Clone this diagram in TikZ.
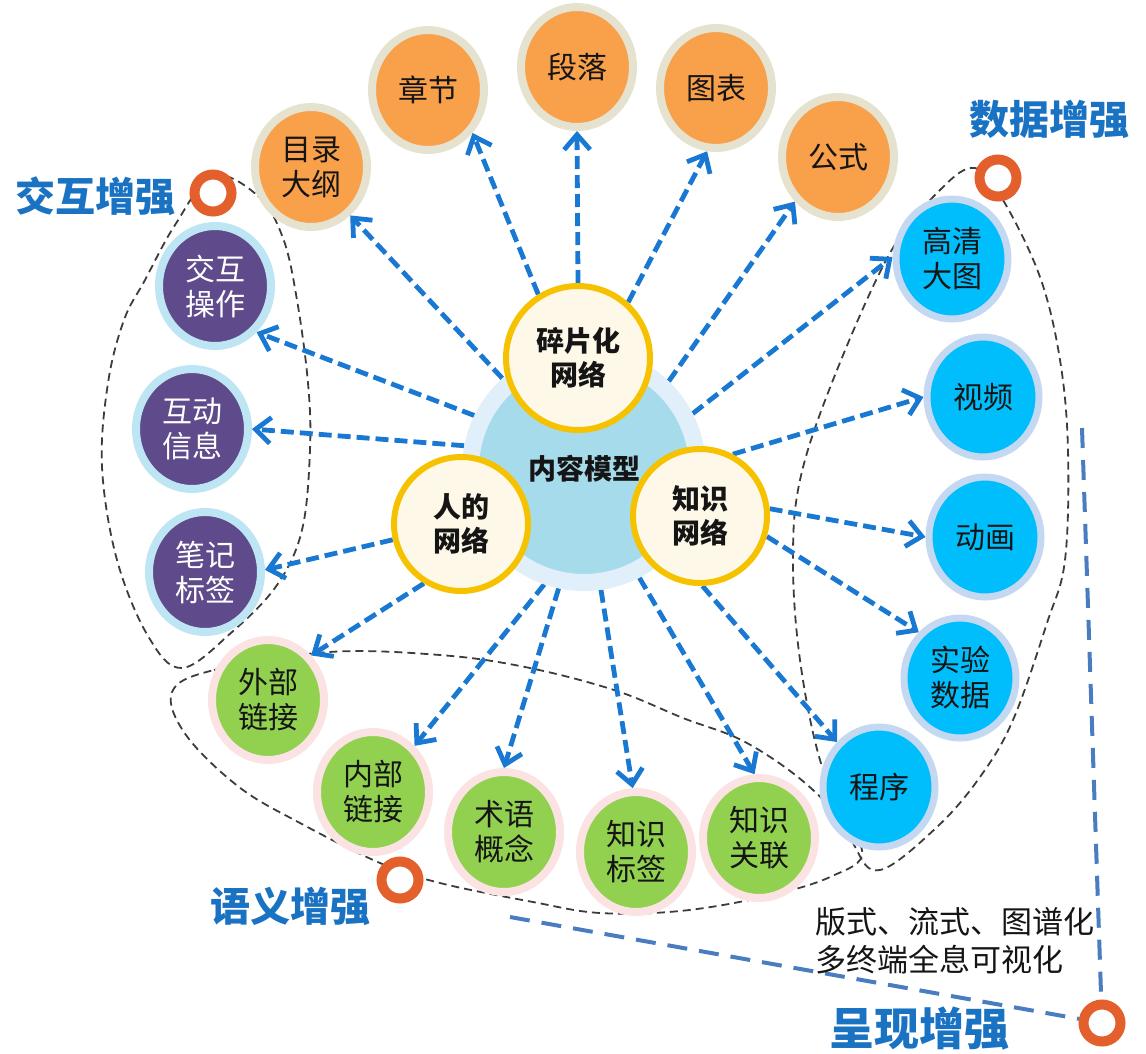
\documentclass[tikz,border=0pt]{standalone}
\usepackage{fontspec}
\setmainfont{Noto Sans CJK SC}
\usetikzlibrary{shapes.geometric,arrows.meta}
\definecolor{orangefill}{HTML}{F9A04B}
\definecolor{orangering}{HTML}{E6E2D0}
\definecolor{purplefill}{HTML}{5F4B8B}
\definecolor{purplering}{HTML}{BDE5F3}
\definecolor{bluefill}{HTML}{00BEFC}
\definecolor{bluering}{HTML}{C4D9F1}
\definecolor{greenfill}{HTML}{92D14F}
\definecolor{greenring}{HTML}{FBE3E4}
\definecolor{cream}{HTML}{FEF8E8}
\definecolor{yellowring}{HTML}{F6C200}
\definecolor{coreblue}{HTML}{A5DBEB}
\definecolor{halo}{HTML}{E0EFFA}
\definecolor{arrowblue}{HTML}{1878D2}
\definecolor{lensgray}{HTML}{3C3C3C}
\definecolor{presblue}{HTML}{4A7DC0}
\definecolor{markerorange}{HTML}{E35F2C}
\definecolor{lblblue}{HTML}{1A72C2}
\definecolor{txtdark}{HTML}{151515}
\pgfdeclarelayer{bg}
\pgfsetlayers{bg,main}
\begin{document}
\begin{tikzpicture}[x=1pt,y=-1pt,
  sat/.style={ellipse, minimum width=112pt, minimum height=120pt, inner sep=0pt,
    line width=8pt, align=center, font=\fontsize{30}{35}\selectfont, text=txtdark},
  orangenode/.style={sat, fill=orangefill, draw=orangering},
  purplenode/.style={sat, fill=purplefill, draw=purplering, text=white},
  bluenode/.style={sat, fill=bluefill, draw=bluering, line width=7pt},
  greennode/.style={sat, fill=greenfill, draw=greenring},
  yellownode/.style={circle, inner sep=0pt, fill=cream, draw=yellowring, line width=6pt,
    align=center, text=txtdark, font=\fontsize{28}{34}\selectfont\bfseries},
  arr/.style={draw=arrowblue, line width=4.8pt, dash pattern=on 13pt off 6pt,
    -{Straight Barb[length=15pt,width=26pt]}},
  lens/.style={draw=lensgray, line width=1.8pt, dash pattern=on 8pt off 5pt},
  pres/.style={draw=presblue, line width=4pt, dash pattern=on 20pt off 12pt},
  marker/.style={circle, draw=markerorange, fill=white, line width=10pt,
    minimum size=37pt, inner sep=0pt},
  lbl/.style={text=lblblue, font=\fontsize{40}{44}\selectfont\bfseries, inner sep=0pt},
]
\useasboundingbox (0,0) rectangle (1146,1053);

% core
\node[circle, minimum size=227pt, fill=coreblue, draw=halo, line width=17pt, inner sep=0pt,
  text=txtdark, font=\fontsize{28}{32}\selectfont\bfseries] (core) at (584,469) {内容模型};
\node[yellownode, minimum size=144pt] (frag) at (578,358) {碎片化\\网络};
\node[yellownode, minimum size=134pt] (ren) at (461,524) {人的\\网络};
\node[yellownode, minimum size=134pt] (zhishi) at (700,516) {知识\\网络};

% orange
\node[orangenode] (mulu) at (311,167) {目录\\大纲};
\node[orangenode] (zhangjie) at (428,90) {章节};
\node[orangenode] (duanluo) at (577,67) {段落};
\node[orangenode] (tubiao) at (716,88) {图表};
\node[orangenode] (gongshi) at (838,157) {公式};
% purple
\node[purplenode] (jiaohu) at (215,286) {交互\\操作};
\node[purplenode] (hudong) at (192,429) {互动\\信息};
\node[purplenode] (biji) at (205,572) {笔记\\标签};
% blue
\node[bluenode] (gaoqing) at (952,259) {高清\\大图};
\node[bluenode] (shipin) at (983,397) {视频};
\node[bluenode] (donghua) at (985,537) {动画};
\node[bluenode] (shiyan) at (960,678) {实验\\数据};
\node[bluenode] (chengxu) at (879,787) {程序};
% green
\node[greennode] (waibu) at (268,700) {外部\\链接};
\node[greennode] (neibu) at (373,792) {内部\\链接};
\node[greennode] (shuyu) at (504,832) {术语\\概念};
\node[greennode] (biaoqian) at (636,852) {知识\\标签};
\node[greennode] (guanlian) at (759,838) {知识\\关联};

% markers
\node[marker] (m1) at (213,193) {};
\node[marker] (m2) at (998,178) {};
\node[marker] (m3) at (400,880) {};
\node[marker] (m4) at (1102,1023) {};

% labels
\node[lbl] (l1) at (96,196) {交互增强};
\node[lbl] (l2) at (1049,119) {数据增强};
\node[lbl] (l3) at (290,906) {语义增强};
\node[lbl, font=\fontsize{45}{50}\selectfont\bfseries] (l4) at (919,1029) {呈现增强};
\node[anchor=west, align=left, inner sep=0pt, text=txtdark,
  font=\fontsize{31}{38}\selectfont] (desc) at (815,941) {版式、流式、图谱化\\多终端全息可视化};

\coordinate (pv) at (1082,428);
\coordinate (ph) at (510,917);

\begin{pgfonlayer}{bg}
% dashed groupings
\draw[lens] plot[smooth cycle, tension=0.6] coordinates {(213,176) (258,196) (283,238) (297,300) (308,383) (310,450) (302,530) (277,585) (232,632) (182,668) (148,636) (117,560) (102,467) (108,383) (124,320) (145,280) (175,225)};
\draw[lens] plot[smooth cycle, tension=0.6] coordinates {(975,168) (1003,200) (1040,277) (1060,360) (1068,450) (1065,560) (1047,623) (1013,720) (980,777) (937,827) (880,870) (853,843) (820,760) (800,660) (793,563) (800,480) (833,380) (890,253) (940,190)};
\draw[lens] plot[smooth cycle, tension=0.6] coordinates {(172,692) (214,670) (329,652) (440,655) (525,667) (614,690) (683,718) (747,743) (813,790) (862,850) (830,877) (763,897) (680,911) (600,913) (533,902) (440,883) (380,863) (300,823) (239,787) (186,735)};
% presentation
\draw[pres] (pv) -- (m4);
\draw[pres] (ph) -- (m4);
% arrows
\draw[arr] (core.132) -- (mulu.-51);
\draw[arr] (frag.122) -- (zhangjie.-44);
\draw[arr] (frag.90) -- (duanluo.-90);
\draw[arr] (frag.48) -- (tubiao.-98);
\draw[arr] (core.46) -- (gongshi.-134);
\draw[arr] (core.27) -- (gaoqing.178);
\draw[arr] (zhishi.62) -- (shipin.180);
\draw[arr] (zhishi.6) -- (donghua.180);
\draw[arr] (zhishi.-17) -- (shiyan.132);
\draw[arr] (zhishi.-88) -- (chengxu.133);
\draw[arr] (core.-63) -- (guanlian.94);
\draw[arr] (core.-82) -- (biaoqian.93);
\draw[arr] (core.-102) -- (shuyu.90);
\draw[arr] (core.-109) -- (neibu.48);
\draw[arr] (ren.-122) -- (waibu.46);
\draw[arr] (ren.193) -- (biji.2);
\draw[arr] (core.169) -- (hudong.0);
\draw[arr] (core.154) -- (jiaohu.-48);
\end{pgfonlayer}
\end{tikzpicture}
\end{document}
